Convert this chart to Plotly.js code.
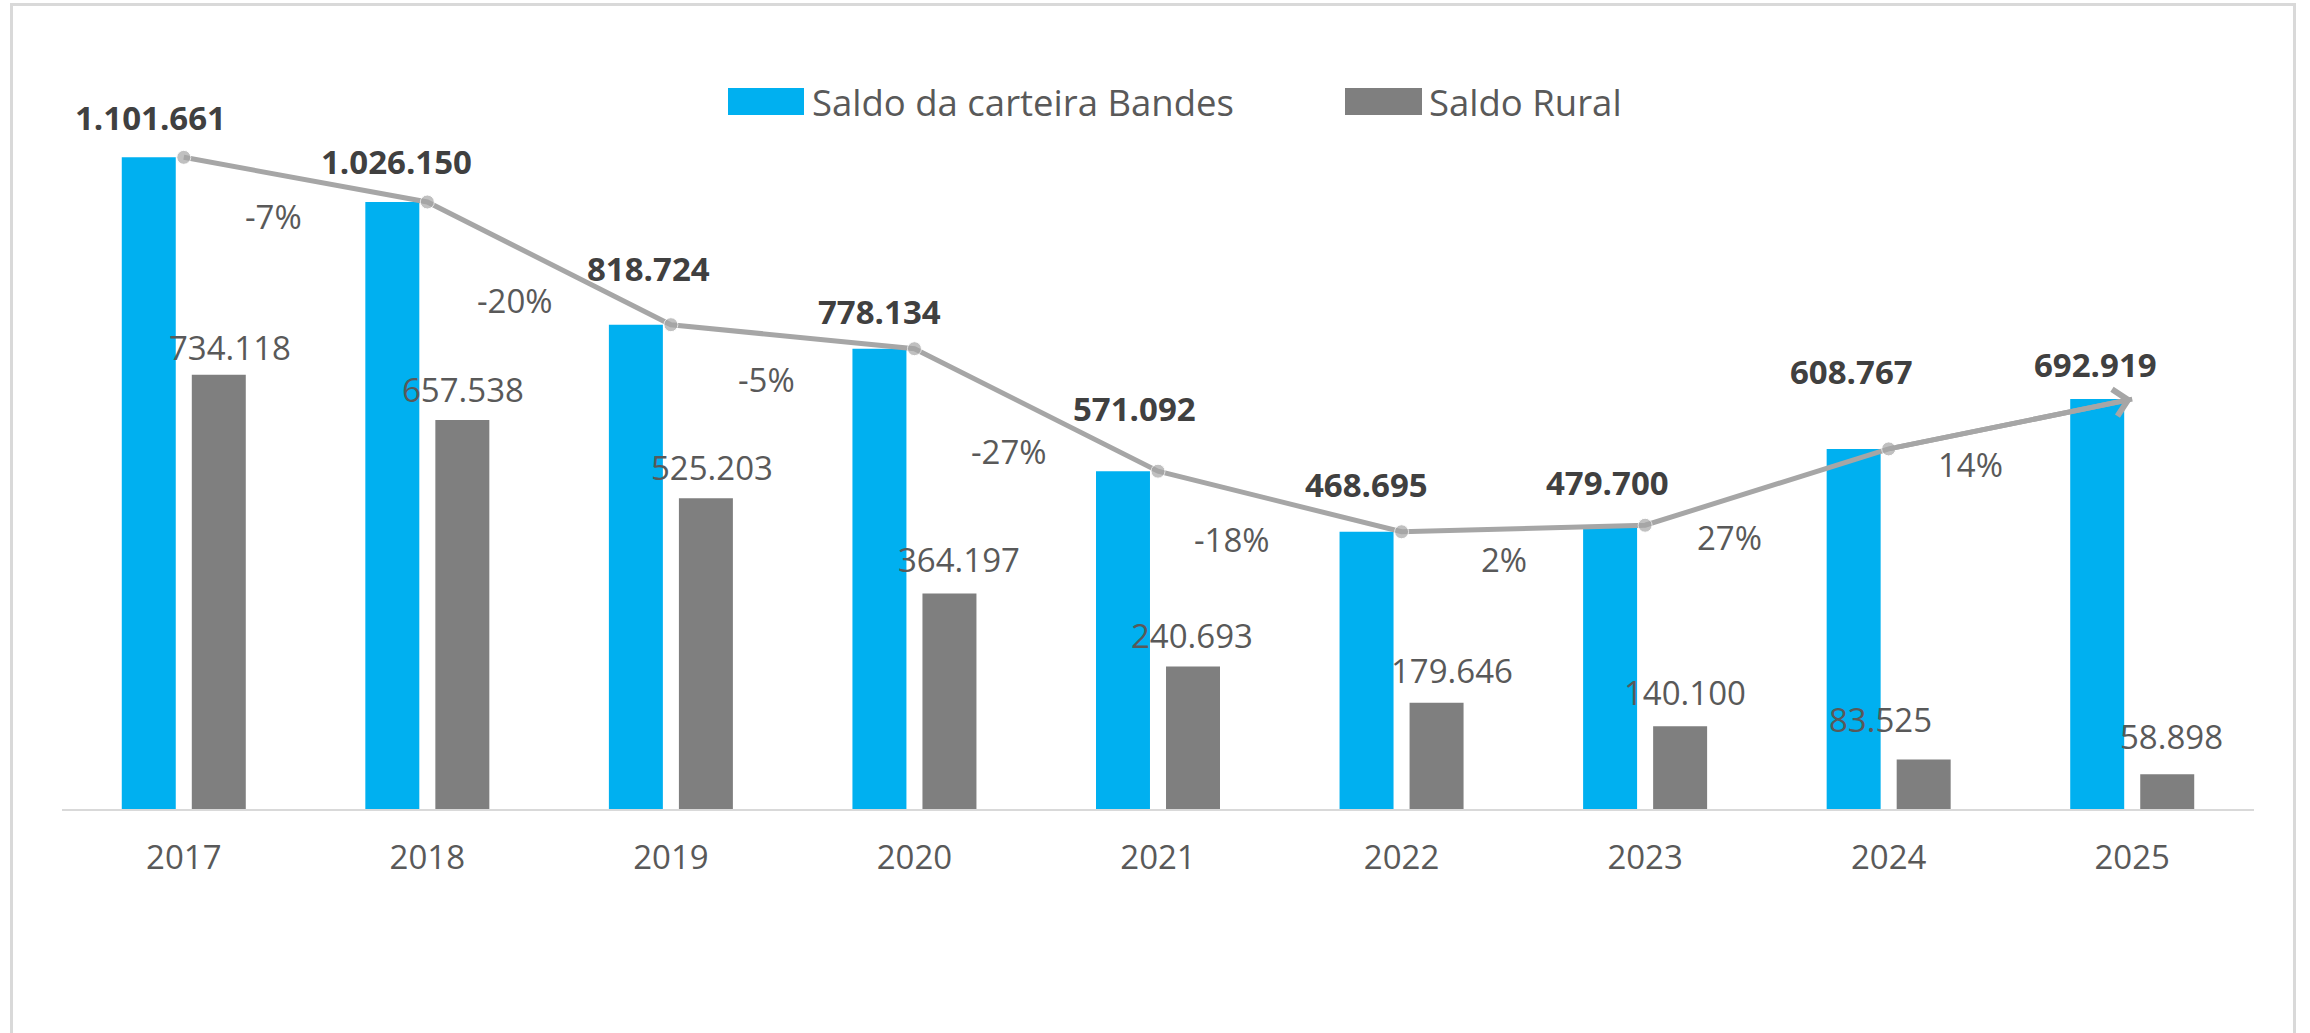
<!DOCTYPE html>
<html>
<head>
<meta charset="utf-8">
<script src="https://cdn.plot.ly/plotly-3.0.1.min.js"></script>
<style>
  html, body { margin: 0; padding: 0; background: #ffffff; overflow: hidden; }
  #chart { width: 2310px; height: 1033px; }
  #frame { position: absolute; left: 10px; top: 3px; width: 2286px; height: 1100px;
           border: 3px solid #D9D9D9; pointer-events: none; box-sizing: border-box; }
</style>
</head>
<body>
<div id="chart"></div>
<div id="frame"></div>
<script>
// ---- data ----
const years = ['2017', '2018', '2019', '2020', '2021', '2022', '2023', '2024', '2025'];
const saldoBandes = [1101661, 1026150, 818724, 778134, 571092, 468695, 479700, 608767, 692919];
const saldoRural = [734118, 657538, 525203, 364197, 240693, 179646, 140100, 83525, 58898];
const variacaoLabels = ['-7%', '-20%', '-5%', '-27%', '-18%', '2%', '27%', '14%'];
const seriesNames = ['Saldo da carteira Bandes', 'Saldo Rural'];

// ---- styles / label placement (pixel offsets) ----
const colBlue = '#00B0F0', colGray = '#7F7F7F', colLine = '#A6A6A6';
const txtDark = '#404040', txtGray = '#595959';
const FONT = '"Open Sans", "Noto Sans", sans-serif';
const bandesShift = [[-33,40],[-31,40],[-22,56],[-35,37],[-24,63],[-35,47],[-38,43],[-37,77],[-37,35]];
const ruralShift  = [[11,27],[1,31],[6,31],[10,34],[-1,31],[15,32],[5,34],[-43,40],[4,38]];
const pctShift    = [[90,-59],[88,-99],[96,-55],[95,-103],[74,-68],[102,-28],[84,-12],[82,-16]];

const M = { l: 62, r: 56, t: 40, b: 224 };
const W = 2310 - M.l - M.r, H = 1033 - M.t - M.b;
const slotPx = 70; // half group width

function fmt(v) { return String(v).replace(/\B(?=(\d{3})+(?!\d))/g, '.'); }
function px(x) { return (x - M.l) / W; }
function py(y) { return (1033 - M.b - y) / H; }

const traces = [
  { type: 'bar', name: seriesNames[0], x: years, y: saldoBandes,
    marker: { color: colBlue }, hoverinfo: 'skip' },
  { type: 'bar', name: seriesNames[1], x: years, y: saldoRural,
    marker: { color: colGray }, hoverinfo: 'skip' },
  { type: 'scatter', mode: 'lines+markers', x: years, y: saldoBandes,
    line: { color: colLine, width: 5 },
    marker: { color: colLine, size: saldoBandes.map((v, i) => i < saldoBandes.length - 1 ? 14 : 0) },
    showlegend: false, hoverinfo: 'skip' }
];

// category index positions for annotations (category axis)
const annotations = [];
saldoBandes.forEach((v, i) => {
  annotations.push({ x: i, y: v, xref: 'x', yref: 'y', text: '<b>' + fmt(v) + '</b>',
    showarrow: false, xanchor: 'center', yanchor: 'middle',
    xshift: bandesShift[i][0], yshift: bandesShift[i][1],
    font: { family: FONT, size: 33, color: txtDark } });
});
saldoRural.forEach((v, i) => {
  annotations.push({ x: i, y: v, xref: 'x', yref: 'y', text: fmt(v),
    showarrow: false, xanchor: 'center', yanchor: 'middle',
    xshift: slotPx / 2 + ruralShift[i][0], yshift: ruralShift[i][1],
    font: { family: FONT, size: 33, color: txtGray } });
});
variacaoLabels.forEach((t, i) => {
  annotations.push({ x: i, y: saldoBandes[i], xref: 'x', yref: 'y', text: t,
    showarrow: false, xanchor: 'center', yanchor: 'middle',
    xshift: pctShift[i][0], yshift: pctShift[i][1],
    font: { family: FONT, size: 33, color: txtGray } });
});
// arrow head on last segment
const n = years.length;
annotations.push({ x: n - 1, y: saldoBandes[n - 1], ax: n - 2, ay: saldoBandes[n - 2],
  xref: 'x', yref: 'y', axref: 'x', ayref: 'y', text: '', showarrow: true,
  arrowhead: 4, arrowsize: 1.05, arrowwidth: 5, arrowcolor: colLine, standoff: 0 });

// manual legend
const legY0 = 88, legY1 = 115;
const shapes = [
  { type: 'rect', xref: 'paper', yref: 'paper', x0: px(728), x1: px(804), y0: py(legY1), y1: py(legY0),
    fillcolor: colBlue, line: { width: 0 } },
  { type: 'rect', xref: 'paper', yref: 'paper', x0: px(1345), x1: px(1422), y0: py(legY1), y1: py(legY0),
    fillcolor: colGray, line: { width: 0 } }
];
annotations.push({ xref: 'paper', yref: 'paper', x: px(810), y: py(102), text: seriesNames[0],
  showarrow: false, xanchor: 'left', yanchor: 'middle', font: { family: FONT, size: 36.5, color: txtGray } });
annotations.push({ xref: 'paper', yref: 'paper', x: px(1427), y: py(102), text: seriesNames[1],
  showarrow: false, xanchor: 'left', yanchor: 'middle', font: { family: FONT, size: 36.5, color: txtGray } });

const layout = {
  width: 2310, height: 1033,
  margin: M,
  paper_bgcolor: '#ffffff', plot_bgcolor: '#ffffff',
  barmode: 'group', bargap: 0.425, bargroupgap: 0.229,
  showlegend: false,
  xaxis: { type: 'category', range: [-0.5, years.length - 0.5], autorange: false,
    showgrid: false, zeroline: false, showline: true,
    linecolor: '#D9D9D9', linewidth: 2, ticks: '', ticklabelstandoff: 18,
    tickfont: { family: FONT, size: 33, color: txtGray }, fixedrange: true },
  yaxis: { range: [0, 1300000], autorange: false, visible: false, showgrid: false, zeroline: false, fixedrange: true },
  annotations: annotations,
  shapes: shapes
};

Plotly.newPlot('chart', traces, layout, { displayModeBar: false, staticPlot: true });
</script>
</body>
</html>
